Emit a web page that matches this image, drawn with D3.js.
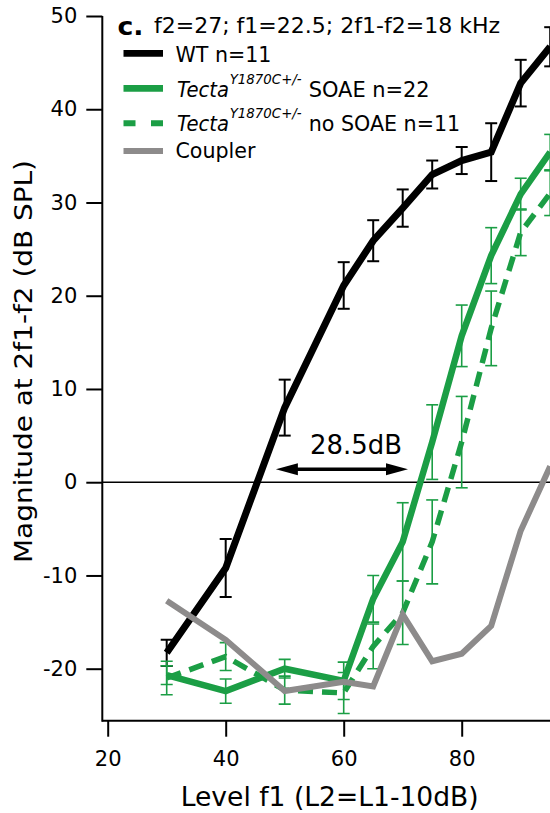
<!DOCTYPE html>
<html lang="en">
<head>
  <meta charset="UTF-8">
  <title>2f1-f2 DPOAE growth</title>
  <script src="https://d3js.org/d3.v7.min.js"></script>
  <style>
    body { margin: 0; background: #fff; }
    svg { display: block; }
    text { font-family: "DejaVu Sans", sans-serif; fill: #000; }
  </style>
</head>
<body>
  <div id="chart"></div>

  <script>
    // L1 levels (dB SPL)
    const levels = [30, 40, 50, 60, 65, 70, 75, 80, 85, 90, 95];

    // WT n=11
    const wtMean = [-18.3, -9.2, 8.0, 21.1, 25.9, 29.4, 33.0, 34.5, 35.4, 42.8, 46.7];
    const wtSem  = [1.4, 3.1, 3.0, 2.5, 2.2, 2.0, 1.5, 1.45, 3.1, 2.5, 2.1];

    // Tecta Y1870C+/- with SOAE, n=22
    const soaeMean = [-20.7, -22.4, -20.0, -21.3, -12.5, -6.4, 4.3, 15.7, 24.3, 30.9, 35.4];
    const soaeSem  = [1.0, 1.3, 1.0, 2.0, 2.5, 4.2, 4.0, 3.3, 3.0, 1.7, 1.9];

    // Tecta Y1870C+/- without SOAE, n=11
    const noSoaeMean = [-21.0, -18.7, -22.3, -22.6, -17.6, -14.0, -6.4, 4.3, 16.5, 26.8, 31.0];
    const noSoaeSem  = [1.8, 1.5, 1.5, 2.2, 2.4, 3.4, 4.5, 4.9, 4.0, 2.5, 2.4];

    // coupler (no animal)
    const couplerMean = [-12.7, -16.9, -22.4, -21.4, -21.9, -14.2, -19.2, -18.4, -15.4, -5.2, 1.7];

    const xTicks = [20, 40, 60, 80];
    const yTicks = [-20, -10, 0, 10, 20, 30, 40, 50];

    // threshold shift annotation
    const shiftFrom = 48.5, shiftTo = 70.9, shiftLevel = 1.4, shiftLabel = "28.5dB";

    const width = 550, height = 813;
    const green = "#1b9e45", gray = "#8d8b8b";

    const svg = d3.select("#chart").append("svg")
      .attr("width", width).attr("height", height);

    const x = d3.scaleLinear().domain([20, 80]).range([107.7, 461.7]);
    const y = d3.scaleLinear().domain([-20, 50]).range([668.7, 16]);
    const axisX = 102.3, axisY = 720.7;

    svg.append("clipPath").attr("id", "plot")
      .append("rect").attr("x", axisX).attr("y", 0).attr("width", width - axisX).attr("height", axisY);

    // axes (plain hyphen for negatives, like the original)
    const fmt = d => String(d);
    const yAxis = svg.append("g")
      .attr("transform", `translate(${axisX},0)`)
      .call(d3.axisLeft(y).tickValues(yTicks).tickFormat(fmt).tickSize(16).tickPadding(9));
    const xAxis = svg.append("g")
      .attr("transform", `translate(0,${axisY})`)
      .call(d3.axisBottom(x).tickValues(xTicks).tickFormat(fmt).tickSize(16).tickPadding(14));
    [xAxis, yAxis].forEach(g => {
      g.select(".domain").remove();
      g.selectAll("line").attr("stroke", "#000").attr("stroke-width", 2);
      g.selectAll("text").style("font-family", "DejaVu Sans").style("font-size", "21px");
    });
    svg.append("line").attr("x1", axisX).attr("x2", axisX).attr("y1", y(50)).attr("y2", axisY + 1)
      .attr("stroke", "#000").attr("stroke-width", 2);
    svg.append("line").attr("x1", axisX).attr("x2", width).attr("y1", axisY).attr("y2", axisY)
      .attr("stroke", "#000").attr("stroke-width", 2);

    // zero line
    svg.append("line").attr("x1", axisX).attr("x2", width).attr("y1", y(0)).attr("y2", y(0))
      .attr("stroke", "#000").attr("stroke-width", 1.5);

    const plot = svg.append("g").attr("clip-path", "url(#plot)");
    const line = d3.line().x((d, i) => x(levels[i])).y(d => d);

    function errorBars(mean, sem, color, w) {
      const g = plot.append("g").attr("stroke", color).attr("stroke-width", w);
      levels.forEach((lv, i) => {
        const cx = x(lv), lo = y(mean[i] - sem[i]), hi = y(mean[i] + sem[i]);
        g.append("line").attr("x1", cx).attr("x2", cx).attr("y1", lo).attr("y2", hi);
        g.append("line").attr("x1", cx - 6).attr("x2", cx + 6).attr("y1", lo).attr("y2", lo);
        g.append("line").attr("x1", cx - 6).attr("x2", cx + 6).attr("y1", hi).attr("y2", hi);
      });
    }

    function series(mean, color, w, dash) {
      plot.append("path")
        .attr("d", line(mean.map(v => y(v))))
        .attr("fill", "none").attr("stroke", color).attr("stroke-width", w)
        .attr("stroke-dasharray", dash || null);
    }

    errorBars(wtMean, wtSem, "#000", 2);
    series(wtMean, "#000", 7);
    errorBars(soaeMean, soaeSem, green, 1.6);
    series(soaeMean, green, 6.5);
    errorBars(noSoaeMean, noSoaeSem, green, 1.6);
    series(noSoaeMean, green, 5.5, "15,9");
    series(couplerMean, gray, 6);

    // arrow
    const ay = y(shiftLevel), ax1 = x(shiftFrom), ax2 = x(shiftTo);
    svg.append("line").attr("x1", ax1 + 16).attr("x2", ax2 - 16).attr("y1", ay).attr("y2", ay)
      .attr("stroke", "#000").attr("stroke-width", 3.5);
    svg.append("path").attr("d", `M${ax1},${ay} L${ax1 + 22},${ay - 6} L${ax1 + 22},${ay + 6} Z`);
    svg.append("path").attr("d", `M${ax2},${ay} L${ax2 - 22},${ay - 6} L${ax2 - 22},${ay + 6} Z`);
    svg.append("text").attr("x", (ax1 + ax2) / 2 + 14).attr("y", ay - 15)
      .attr("text-anchor", "middle").style("font-size", "26px")
      .attr("textLength", 92).attr("lengthAdjust", "spacingAndGlyphs").text(shiftLabel);

    // axis titles
    svg.append("text").attr("x", 329.7).attr("y", 806).attr("text-anchor", "middle")
      .style("font-size", "26px").attr("textLength", 298).attr("lengthAdjust", "spacingAndGlyphs")
      .text("Level f1  (L2=L1-10dB)");
    svg.append("text").attr("transform", "translate(31.5,361.5) rotate(-90)")
      .attr("text-anchor", "middle").style("font-size", "25px")
      .attr("textLength", 403).attr("lengthAdjust", "spacingAndGlyphs")
      .text("Magnitude at 2f1-f2  (dB SPL)");

    // panel title
    svg.append("text").attr("x", 117.5).attr("y", 35).style("font-size", "24px").style("font-weight", "bold")
      .attr("textLength", 26).attr("lengthAdjust", "spacingAndGlyphs").text("c.");
    svg.append("text").attr("x", 154).attr("y", 33.3).style("font-size", "22px")
      .attr("textLength", 346).attr("lengthAdjust", "spacingAndGlyphs")
      .text("f2=27; f1=22.5; 2f1-f2=18 kHz");

    // legend
    const legend = svg.append("g");
    const items = [
      { y: 53.3, color: "#000", w: 6.7, dash: null },
      { y: 88.3, color: green, w: 6.7, dash: null },
      { y: 123.3, color: green, w: 6, dash: "12,15.5" },
      { y: 151, color: gray, w: 6, dash: null }
    ];
    items.forEach(d => {
      legend.append("line").attr("x1", 123.5).attr("x2", 163).attr("y1", d.y).attr("y2", d.y)
        .attr("stroke", d.color).attr("stroke-width", d.w).attr("stroke-dasharray", d.dash);
    });
    legend.append("text").attr("x", 175.4).attr("y", 61.7).style("font-size", "22px")
      .attr("textLength", 96).attr("lengthAdjust", "spacingAndGlyphs").text("WT n=11");
    [{ y: 96.7, rest: "SOAE n=22", len: 121 }, { y: 130.5, rest: "no SOAE n=11", len: 151.5 }].forEach(d => {
      legend.append("text").attr("x", 177).attr("y", d.y).style("font-size", "22px").style("font-style", "italic")
        .attr("textLength", 52).attr("lengthAdjust", "spacingAndGlyphs").text("Tecta");
      legend.append("text").attr("x", 229.7).attr("y", d.y - 13).style("font-size", "13.5px").style("font-style", "italic")
        .attr("textLength", 72).attr("lengthAdjust", "spacingAndGlyphs").text("Y1870C+/-");
      legend.append("text").attr("x", 308.7).attr("y", d.y).style("font-size", "22px")
        .attr("textLength", d.len).attr("lengthAdjust", "spacingAndGlyphs").text(d.rest);
    });
    legend.append("text").attr("x", 175.4).attr("y", 158.3).style("font-size", "22px")
      .attr("textLength", 80).attr("lengthAdjust", "spacingAndGlyphs").text("Coupler");
  </script>
</body>
</html>
